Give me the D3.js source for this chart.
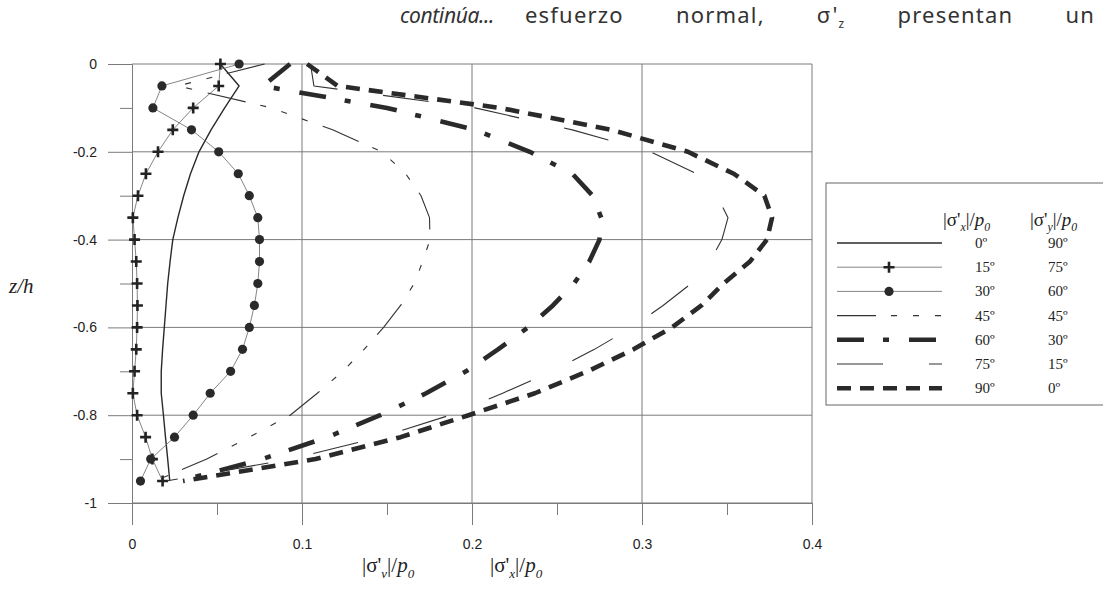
<!DOCTYPE html>
<html>
<head>
<meta charset="utf-8">
<script src="https://cdn.jsdelivr.net/npm/d3@7"></script>
<style>
body { margin: 0; background: #fff; }
svg { display: block; }
.tick text { font-family: "Liberation Sans", Arial, sans-serif; font-size: 14px; fill: #222; }
.serif { font-family: "Liberation Serif", "Times New Roman", serif; fill: #222; }
</style>
</head>
<body>
<svg id="chart" width="1103" height="598"></svg>
<script>
// depth z/h of every point (same for all series)
var depthZ = [0, -0.05, -0.1, -0.15, -0.2, -0.25, -0.3, -0.35, -0.4, -0.45, -0.5, -0.55, -0.6, -0.65, -0.7, -0.75, -0.8, -0.85, -0.9, -0.95];

// |sigma'x|/p0 for each angle
var ratio0  = [0.052, 0.063, 0.0545, 0.0465, 0.0394, 0.0344, 0.0304, 0.027, 0.024, 0.0224, 0.021, 0.020, 0.019, 0.018, 0.0172, 0.0172, 0.0185, 0.0197, 0.021, 0.0222];
var ratio15 = [0.052, 0.051, 0.036, 0.024, 0.0153, 0.0082, 0.0035, 0.0005, 0.0015, 0.0025, 0.003, 0.0032, 0.003, 0.0025, 0.0015, 0.0005, 0.003, 0.008, 0.012, 0.018];
var ratio30 = [0.063, 0.0176, 0.0123, 0.035, 0.051, 0.0625, 0.069, 0.074, 0.075, 0.075, 0.074, 0.072, 0.069, 0.065, 0.058, 0.046, 0.036, 0.025, 0.011, 0.005];
var ratio45 = [0.078, 0.027, 0.082, 0.118, 0.147, 0.161, 0.170, 0.175, 0.1753, 0.171, 0.166, 0.158, 0.148, 0.1365, 0.124, 0.109, 0.093, 0.069, 0.044, 0.0135];
var ratio60 = [0.093, 0.077, 0.150, 0.202, 0.234, 0.259, 0.271, 0.276, 0.275, 0.269, 0.260, 0.2476, 0.233, 0.2153, 0.1965, 0.173, 0.146, 0.115, 0.0765, 0.028];
var ratio75 = [0.105, 0.107, 0.2018, 0.259, 0.305, 0.332, 0.344, 0.3506, 0.347, 0.340, 0.329, 0.3124, 0.294, 0.272, 0.247, 0.218, 0.187, 0.146, 0.093, 0.020];
var ratio90 = [0.103, 0.121, 0.2165, 0.282, 0.327, 0.354, 0.372, 0.3765, 0.3735, 0.3635, 0.348, 0.335, 0.3176, 0.295, 0.268, 0.237, 0.198, 0.158, 0.108, 0.030];

var legendAngleX = ["0º", "15º", "30º", "45º", "60º", "75º", "90º"];
var legendAngleY = ["90º", "75º", "60º", "45º", "30º", "15º", "0º"];

var xTickValues = [0, 0.1, 0.2, 0.3, 0.4];
var xMinorTicks = [0.05, 0.15, 0.25, 0.35];
var yTickValues = [0, -0.2, -0.4, -0.6, -0.8, -1];
var yMinorTicks = [-0.1, -0.3, -0.5, -0.7, -0.9];

var svg = d3.select("#chart");
const plot = {left: 132, right: 812, top: 64, bottom: 503};

var x = d3.scaleLinear().domain([0, 0.4]).range([plot.left, plot.right]);
var y = d3.scaleLinear().domain([0, -1]).range([plot.top, plot.bottom]);

// running text of the page above the chart
var header = svg.append("g").attr("font-family", "'Noto Sans', sans-serif").attr("font-size", 22).attr("fill", "#333");
header.append("text").attr("x", 400).attr("y", 23).attr("font-style", "italic")
    .attr("font-size", 21).attr("letter-spacing", -0.4).text("continúa...");
var h2 = header.append("text").attr("x", 525).attr("y", 23).attr("letter-spacing", 1.2);
h2.append("tspan").text("esfuerzo normal, σ'");
h2.append("tspan").attr("font-size", 12).attr("dy", 5).text("z");
h2.append("tspan").attr("dy", -5).text(" presentan un");
// justified line: widen the word gaps so "un" ends at the page edge
var naturalWidth = h2.node().getComputedTextLength();
h2.attr("word-spacing", Math.max(0, (570 - naturalWidth) / 4));

// grid
var grid = svg.append("g").attr("stroke", "#7a7a7a").attr("stroke-width", 1);
grid.selectAll("line.h").data(yTickValues).enter().append("line").attr("class", "h")
    .attr("x1", plot.left).attr("x2", plot.right)
    .attr("y1", d => y(d)).attr("y2", d => y(d));
grid.selectAll("line.v").data(xTickValues.slice(1)).enter().append("line").attr("class", "v")
    .attr("x1", d => x(d)).attr("x2", d => x(d))
    .attr("y1", plot.top).attr("y2", plot.bottom);

// axes
svg.append("g").attr("transform", "translate(" + plot.left + ",0)")
    .call(d3.axisLeft(y).tickValues(yTickValues).tickSize(24).tickSizeOuter(0).tickPadding(11)
        .tickFormat(d => String(d)));
svg.append("g").attr("transform", "translate(" + plot.left + ",0)")
    .call(d3.axisLeft(y).tickValues(yMinorTicks).tickSize(12).tickSizeOuter(0).tickFormat(""));
svg.append("g").attr("transform", "translate(0," + plot.bottom + ")")
    .call(d3.axisBottom(x).tickValues(xTickValues).tickSize(22).tickSizeOuter(0).tickPadding(14)
        .tickFormat(d => String(d)));
svg.append("g").attr("transform", "translate(0," + plot.bottom + ")")
    .call(d3.axisBottom(x).tickValues(xMinorTicks).tickSize(12).tickSizeOuter(0).tickFormat(""));
svg.selectAll(".domain, .tick line").attr("stroke", "#7a7a7a");

// series
var seriesStyles = [
    {data: ratio0,  width: 1.4, dash: null, color: "#2a2a2a", marker: null},
    {data: ratio15, width: 0.8, dash: null, color: "#666", marker: "plus"},
    {data: ratio30, width: 0.8, dash: null, color: "#666", marker: "dot"},
    {data: ratio45, width: 1.1, dash: "39,15,6,16,6,16,6,16", color: "#333", marker: null},
    {data: ratio60, width: 4.6, dash: "27,19,6,20", color: "#2a2a2a", marker: null},
    {data: ratio75, width: 1.1, dash: "46,46", color: "#333", marker: null},
    {data: ratio90, width: 4.6, dash: "14,9", color: "#2a2a2a", marker: null}
];

var line = d3.line()
    .x(d => x(d[0]))
    .y(d => y(d[1]));

function drawMarker(g, kind, cx, cy) {
    if (kind == "plus") {
        g.append("path").attr("d", "M" + (cx - 5.5) + "," + cy + "H" + (cx + 5.5) + "M" + cx + "," + (cy - 5.5) + "V" + (cy + 5.5))
            .attr("stroke", "#222").attr("stroke-width", 2.6).attr("fill", "none");
    } else if (kind == "dot") {
        g.append("circle").attr("cx", cx).attr("cy", cy).attr("r", 4.6).attr("fill", "#2a2a2a");
    }
}

var series = svg.append("g");
seriesStyles.forEach(function(s) {
    var pts = s.data.map((v, i) => [v, depthZ[i]]);
    series.append("path")
        .attr("d", line(pts))
        .attr("fill", "none")
        .attr("stroke", s.color)
        .attr("stroke-width", s.width)
        .attr("stroke-dasharray", s.dash)
        .attr("stroke-linejoin", "round");
    if (s.marker) {
        var mg = series.append("g");
        pts.forEach(p => drawMarker(mg, s.marker, x(p[0]), y(p[1])));
    }
});

// axis titles
svg.append("text").attr("class", "serif").attr("x", 9).attr("y", 293)
    .attr("font-size", 21).attr("font-style", "italic").text("z/h");

function sigmaLabel(parent, px, py, sub, size) {
    var t = parent.append("text").attr("class", "serif").attr("x", px).attr("y", py).attr("font-size", size);
    t.append("tspan").text("|σ'");
    t.append("tspan").attr("font-size", size * 0.62).attr("font-style", "italic").attr("dy", size * 0.28).text(sub);
    t.append("tspan").attr("dy", -size * 0.28).text("|/");
    t.append("tspan").attr("font-style", "italic").text("p");
    t.append("tspan").attr("font-size", size * 0.62).attr("font-style", "italic").attr("dy", size * 0.28).text("0");
    return t;
}
sigmaLabel(svg, 362, 572, "v", 21);
sigmaLabel(svg, 490, 572, "x", 21);

// legend
var legend = svg.append("g");
legend.append("rect").attr("x", 826).attr("y", 183).attr("width", 300).attr("height", 222)
    .attr("fill", "#fff").attr("stroke", "#666").attr("stroke-width", 1);
sigmaLabel(legend, 943, 226, "x", 19);
sigmaLabel(legend, 1030, 226, "y", 19);

seriesStyles.forEach(function(s, i) {
    var ry = 243 + i * 24.2;
    legend.append("line").attr("x1", 837).attr("x2", 942).attr("y1", ry).attr("y2", ry)
        .attr("stroke", s.color).attr("stroke-width", s.width).attr("stroke-dasharray", s.dash);
    if (s.marker) drawMarker(legend, s.marker, 889, ry);
    legend.append("text").attr("class", "serif").attr("x", 975).attr("y", ry + 5).attr("font-size", 15).text(legendAngleX[i]);
    legend.append("text").attr("class", "serif").attr("x", 1048).attr("y", ry + 5).attr("font-size", 15).text(legendAngleY[i]);
});
</script>
</body>
</html>
